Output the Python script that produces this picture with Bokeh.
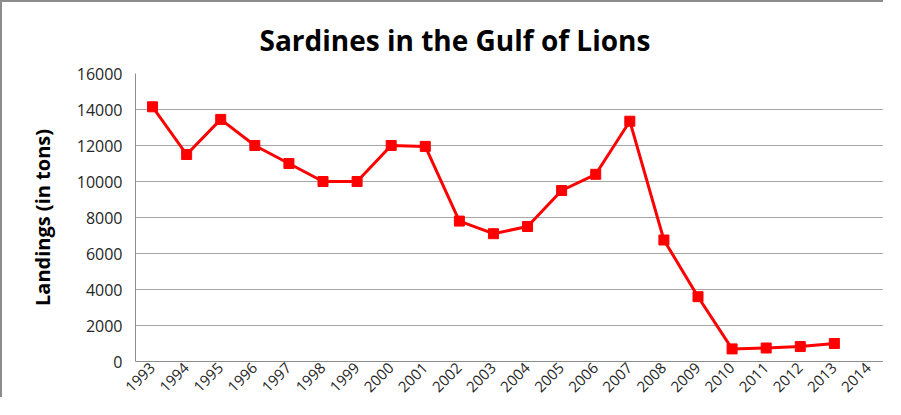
import math
from bokeh.plotting import figure
from bokeh.models import FactorRange
from bokeh.embed import file_html
from bokeh.resources import INLINE

years = [str(y) for y in range(1993, 2015)]
data_years = [str(y) for y in range(1993, 2014)]
landings = [14150, 11500, 13450, 12000, 11000, 10000, 10000, 12000, 11950,
            7800, 7100, 7500, 9500, 10400, 13350, 6750, 3600, 700, 750, 830, 1000]
y_ticks = [0, 2000, 4000, 6000, 8000, 10000, 12000, 14000, 16000]

FONT = "Open Sans"

p = figure(width=883, height=397, output_backend="svg", toolbar_location=None,
           x_range=FactorRange(factors=years, range_padding=0),
           y_range=(0, 16000),
           min_border_left=133, min_border_top=71, min_border_right=0,
           min_border_bottom=30)
p.styles = {"border-left": "2px solid #8c8c8c", "border-top": "2px solid #8c8c8c"}

p.title.text = "Sardines in the Gulf of Lions"
p.title.text_font = FONT
p.title.text_font_style = "bold"
p.title.text_font_size = "28px"
p.title.text_color = "#000000"
p.title.align = "left"
p.title.offset = 124
p.title.standoff = 30

p.outline_line_color = None
p.background_fill_color = "white"
p.border_fill_color = "white"

p.xgrid.grid_line_color = None
p.ygrid.grid_line_color = "#a6a6a6"
p.ygrid.grid_line_width = 1

p.yaxis.ticker = y_ticks
p.yaxis.axis_line_color = "#8c8c8c"
p.yaxis.major_tick_line_color = None
p.yaxis.minor_tick_line_color = None
p.yaxis.major_tick_out = 0
p.yaxis.major_tick_in = 0
p.yaxis.major_label_standoff = 13
p.yaxis.major_label_text_font = FONT
p.yaxis.major_label_text_font_size = "16px"
p.yaxis.major_label_text_color = "#262626"
p.yaxis.axis_label = "Landings (in tons)"
p.yaxis.axis_label_text_font = FONT
p.yaxis.axis_label_text_font_style = "bold"
p.yaxis.axis_label_text_font_size = "20px"
p.yaxis.axis_label_text_color = "#000000"
p.yaxis.axis_label_standoff = 18

p.xaxis.axis_line_color = "#8c8c8c"
p.xaxis.major_tick_line_color = None
p.xaxis.minor_tick_line_color = None
p.xaxis.major_tick_out = 0
p.xaxis.major_tick_in = 0
p.xaxis.major_label_orientation = math.pi / 4
p.xaxis.major_label_standoff = 4
p.xaxis.major_label_text_font = FONT
p.xaxis.major_label_text_font_size = "15px"
p.xaxis.major_label_text_color = "#262626"

p.line(data_years, landings, line_color="#ff0000", line_width=3)
p.scatter(data_years, landings, marker="square", size=10,
          fill_color="#ff0000", line_color="#ff0000")

open("out.html", "w").write(file_html(p, INLINE))
